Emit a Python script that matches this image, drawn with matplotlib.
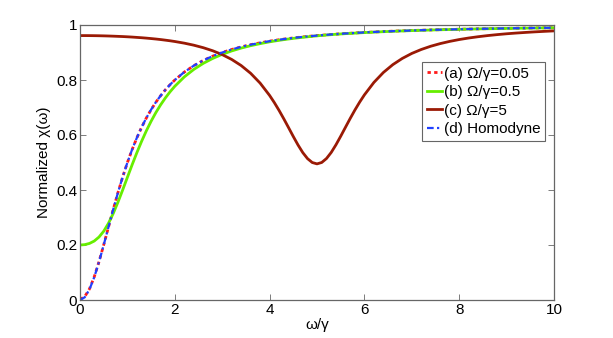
import matplotlib
matplotlib.use("Agg")
import matplotlib.pyplot as plt

plt.rcParams['font.family'] = ['Liberation Sans', 'DejaVu Sans']

omega = [0.0, 0.1, 0.2, 0.3, 0.4, 0.5, 0.6, 0.7, 0.8, 0.9,
         1.0, 1.1, 1.2, 1.3, 1.4, 1.5, 1.6, 1.7, 1.8, 1.9,
         2.0, 2.2, 2.4, 2.6, 2.8, 3.0, 3.2, 3.4, 3.6, 3.8,
         4.0, 4.1, 4.2, 4.3, 4.4, 4.5, 4.6, 4.7, 4.8, 4.9,
         5.0, 5.1, 5.2, 5.3, 5.4, 5.5, 5.6, 5.7, 5.8, 5.9,
         6.0, 6.2, 6.4, 6.6, 6.8, 7.0, 7.2, 7.4, 7.6, 7.8,
         8.0, 8.2, 8.4, 8.6, 8.8, 9.0, 9.2, 9.4, 9.6, 9.8, 10.0]

chi_a = [0.0025, 0.0122, 0.0404, 0.0840, 0.1388, 0.2003, 0.2646, 0.3285, 0.3900, 0.4469,
         0.4999, 0.5470, 0.5900, 0.6279, 0.6620, 0.6920, 0.7190, 0.7426, 0.7641, 0.7829,
         0.7999, 0.8287, 0.8520, 0.8710, 0.8868, 0.8999, 0.9110, 0.9204, 0.9284, 0.9352,
         0.9412, 0.9439, 0.9464, 0.9487, 0.9509, 0.9529, 0.9549, 0.9567, 0.9584, 0.9600,
         0.9615, 0.9630, 0.9643, 0.9656, 0.9668, 0.9680, 0.9691, 0.9701, 0.9711, 0.9721,
         0.9730, 0.9746, 0.9762, 0.9776, 0.9788, 0.9800, 0.9811, 0.9821, 0.9830, 0.9838,
         0.9846, 0.9853, 0.9860, 0.9867, 0.9873, 0.9878, 0.9883, 0.9888, 0.9893, 0.9897, 0.9901]

chi_b = [0.2000, 0.2013, 0.2057, 0.2144, 0.2288, 0.2500, 0.2788, 0.3143, 0.3554, 0.4000,
         0.4462, 0.4919, 0.5359, 0.5772, 0.6153, 0.6500, 0.6814, 0.7095, 0.7346, 0.7571,
         0.7772, 0.8112, 0.8384, 0.8605, 0.8784, 0.8933, 0.9057, 0.9161, 0.9248, 0.9322,
         0.9388, 0.9416, 0.9443, 0.9468, 0.9492, 0.9514, 0.9534, 0.9554, 0.9571, 0.9589,
         0.9605, 0.9621, 0.9635, 0.9649, 0.9662, 0.9674, 0.9685, 0.9695, 0.9705, 0.9715,
         0.9724, 0.9741, 0.9757, 0.9771, 0.9784, 0.9796, 0.9807, 0.9817, 0.9827, 0.9835,
         0.9843, 0.9851, 0.9858, 0.9864, 0.9870, 0.9876, 0.9881, 0.9886, 0.9891, 0.9895, 0.9899]

chi_c = [0.9615, 0.9615, 0.9614, 0.9612, 0.9609, 0.9605, 0.9600, 0.9594, 0.9587, 0.9580,
         0.9571, 0.9561, 0.9549, 0.9537, 0.9523, 0.9507, 0.9490, 0.9471, 0.9449, 0.9426,
         0.9400, 0.9340, 0.9266, 0.9175, 0.9063, 0.8923, 0.8748, 0.8526, 0.8244, 0.7887,
         0.7439, 0.7178, 0.6893, 0.6587, 0.6268, 0.5945, 0.5636, 0.5360, 0.5141, 0.4999,
         0.4950, 0.5001, 0.5145, 0.5366, 0.5644, 0.5955, 0.6279, 0.6601, 0.6909, 0.7196,
         0.7459, 0.7911, 0.8273, 0.8559, 0.8785, 0.8966, 0.9110, 0.9228, 0.9324, 0.9404,
         0.9471, 0.9527, 0.9574, 0.9615, 0.9650, 0.9681, 0.9707, 0.9730, 0.9751, 0.9769, 0.9786]

chi_d = [0.0000, 0.0099, 0.0385, 0.0826, 0.1379, 0.2000, 0.2647, 0.3289, 0.3902, 0.4475,
         0.5000, 0.5475, 0.5902, 0.6283, 0.6622, 0.6923, 0.7191, 0.7429, 0.7642, 0.7831,
         0.8000, 0.8288, 0.8521, 0.8711, 0.8869, 0.9000, 0.9110, 0.9204, 0.9284, 0.9352,
         0.9412, 0.9439, 0.9464, 0.9487, 0.9509, 0.9529, 0.9549, 0.9567, 0.9584, 0.9600,
         0.9615, 0.9630, 0.9643, 0.9656, 0.9668, 0.9680, 0.9691, 0.9701, 0.9711, 0.9721,
         0.9730, 0.9746, 0.9762, 0.9776, 0.9788, 0.9800, 0.9811, 0.9821, 0.9830, 0.9838,
         0.9846, 0.9853, 0.9860, 0.9867, 0.9873, 0.9878, 0.9883, 0.9888, 0.9893, 0.9897, 0.9901]

labels = ['(a) \u03a9/\u03b3=0.05', '(b) \u03a9/\u03b3=0.5', '(c) \u03a9/\u03b3=5', '(d) Homodyne']

xticks = [0, 2, 4, 6, 8, 10]
yticks = [0, 0.2, 0.4, 0.6, 0.8, 1]
xticklabels = ['0', '2', '4', '6', '8', '10']
yticklabels = ['0', '0.2', '0.4', '0.6', '0.8', '1']

fig = plt.figure(figsize=(6.13, 3.38), dpi=100)
ax = fig.add_axes([80/613, 1-300/338, (554-80)/613, (300-25)/338])

ax.plot(omega, chi_a, color='#ff1a1a', linestyle=(0, (1.2, 1.2)), lw=2.0, label=labels[0])
ax.plot(omega, chi_b, color='#66ee00', linestyle='-', lw=2.0, label=labels[1])
ax.plot(omega, chi_c, color='#9a1a05', linestyle='-', lw=2.0, label=labels[2])
ax.plot(omega, chi_d, color='#2040ff', linestyle=(0, (3, 1.5, 1, 1.5)), lw=1.6, label=labels[3])

ax.set_xlim(0, 10)
ax.set_ylim(0, 1)
ax.set_xticks(xticks)
ax.set_xticklabels(xticklabels)
ax.set_yticks(yticks)
ax.set_yticklabels(yticklabels)
ax.tick_params(direction='in', top=True, right=True, length=4, width=0.6,
               color='#666666', labelsize=11, pad=2)
for s in ax.spines.values():
    s.set_color('#666666')
    s.set_linewidth(0.9)

ax.set_xlabel('\u03c9/\u03b3', fontsize=11, labelpad=1)
ax.set_ylabel('Normalized \u03c7(\u03c9)', fontsize=11, labelpad=4)

leg = ax.legend(loc='upper right', bbox_to_anchor=(545/613, 1-62/338),
                bbox_transform=fig.transFigure, fontsize=11, frameon=True,
                fancybox=False, framealpha=1, edgecolor='#666666',
                handlelength=0.95, handletextpad=0.15, labelspacing=0.3,
                borderpad=0.3, borderaxespad=0)
leg.get_frame().set_linewidth(0.8)

fig.savefig('out.png', dpi=100)
